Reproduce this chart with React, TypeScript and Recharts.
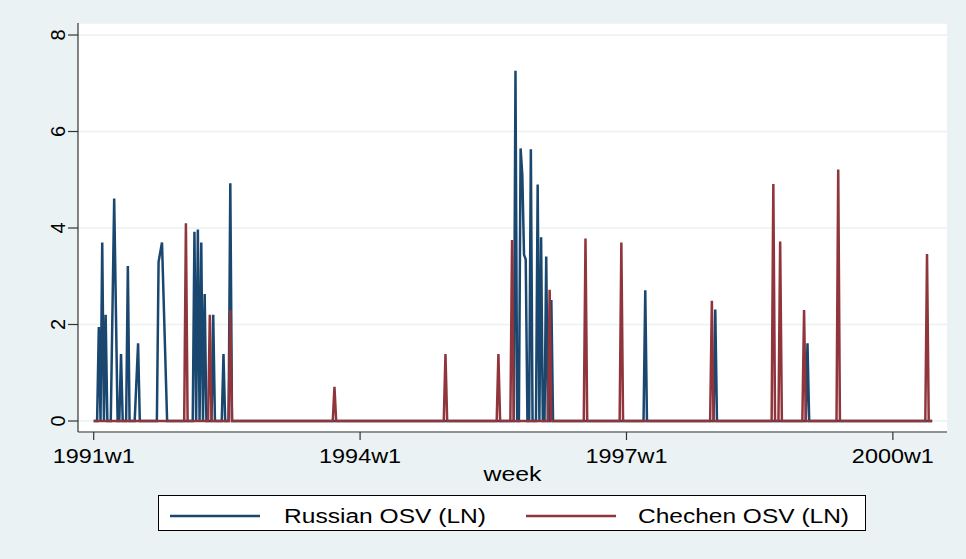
import React from 'react';
import { LineChart, Line, XAxis, YAxis, CartesianGrid } from 'recharts';

// ---- data (week index 0 = 1991w1) ----
const weekTickValues = [0, 156, 312, 468];
const weekTickLabels = ['1991w1', '1994w1', '1997w1', '2000w1'];
const yTicks = [0, 2, 4, 6, 8];
const lastWeek = 491;

const russianWeeks = [3, 5, 7, 12, 16, 20, 26, 38, 40, 59, 61, 63, 65, 70, 76, 80, 247, 250, 251, 252, 253, 256, 260, 262, 265, 268, 323, 364, 418];
const russianValues = [1.95, 3.7, 2.2, 4.61, 1.39, 3.21, 1.61, 3.3, 3.7, 3.92, 3.97, 3.7, 2.63, 2.2, 1.39, 4.93, 7.26, 5.65, 5.1, 3.45, 3.35, 5.63, 4.9, 3.81, 3.41, 2.51, 2.71, 2.31, 1.61];
const russianMissing = [11, 13, 25, 39, 41, 42];

const chechenWeeks = [54, 68, 80, 141, 206, 237, 245, 267, 288, 309, 362, 398, 402, 416, 436, 488];
const chechenValues = [4.1, 2.2, 2.3, 0.71, 1.39, 1.39, 3.75, 2.72, 3.78, 3.7, 2.49, 4.91, 3.72, 2.3, 5.21, 3.46];

const seriesNames = ['Russian OSV (LN)', 'Chechen OSV (LN)'];
const seriesColors = ['#1A476F', '#90353B'];

type Row = { week: number; russian: number | null; chechen: number | null };
const rows: Row[] = [];
for (let w = 0; w <= lastWeek; w++) rows.push({ week: w, russian: 0, chechen: 0 });
russianWeeks.forEach((w, i) => { rows[w].russian = russianValues[i]; });
russianMissing.forEach((w) => { rows[w].russian = null; });
chechenWeeks.forEach((w, i) => { rows[w].chechen = chechenValues[i]; });

const FONT = '"Liberation Sans", Arial, Helvetica, sans-serif';

const XTick = (props: any) => {
  const { x, payload } = props;
  const idx = weekTickValues.indexOf(payload.value);
  return (
    <text x={x} y={463} textAnchor="middle" fontFamily={FONT} fontSize={20} fill="#000"
      textLength={82} lengthAdjust="spacingAndGlyphs">
      {weekTickLabels[idx]}
    </text>
  );
};

const YTick = (props: any) => {
  const { y, payload } = props;
  return (
    <text x={0} y={0} transform={`translate(58,${y}) rotate(-90)`} textAnchor="middle"
      dominantBaseline="central" fontFamily={FONT} fontSize={20} fill="#000">
      {payload.value}
    </text>
  );
};

export default function App() {
  return (
    <div style={{ position: 'absolute', left: 0, top: 0, width: 966, height: 559, background: '#EAF2F3', overflow: 'hidden' }}>
      <LineChart width={966} height={559} data={rows} margin={{ top: 23, right: 19, left: 0, bottom: 0 }}>
        <CartesianGrid horizontal vertical={false} stroke="#EAF2F3" strokeWidth={1.5} fill="#FFFFFF" />
        <XAxis
          dataKey="week"
          type="number"
          domain={[-9.19, 499.7]}
          allowDataOverflow
          ticks={weekTickValues}
          height={127}
          tickSize={8}
          axisLine={{ stroke: '#333', strokeWidth: 1.2 }}
          tickLine={{ stroke: '#333', strokeWidth: 1.2 }}
          tick={<XTick />}
          label={{
            content: (p: any) => {
              const vb = p.viewBox || { x: 78, width: 869 };
              return (
                <text x={vb.x + vb.width / 2} y={481} textAnchor="middle" fontFamily={FONT} fontSize={20}
                  fill="#000" textLength={58} lengthAdjust="spacingAndGlyphs">week</text>
              );
            },
          }}
        />
        <YAxis
          type="number"
          domain={[-0.228, 8.249]}
          allowDataOverflow
          ticks={yTicks}
          width={78}
          tickSize={10}
          axisLine={{ stroke: '#333', strokeWidth: 1.2 }}
          tickLine={{ stroke: '#333', strokeWidth: 1.2 }}
          tick={<YTick />}
        />
        <Line dataKey="russian" type="linear" stroke={seriesColors[0]} strokeWidth={2.5} dot={false}
          connectNulls isAnimationActive={false} />
        <Line dataKey="chechen" type="linear" stroke={seriesColors[1]} strokeWidth={2.5} dot={false}
          connectNulls isAnimationActive={false} />
      </LineChart>
      <div style={{ position: 'absolute', left: 158, top: 495, width: 708, height: 36, boxSizing: 'border-box', border: '1px solid #000', background: '#FFFFFF' }}>
        <svg width={706} height={34} style={{ display: 'block' }}>
          <line x1={11} x2={101} y1={20} y2={20} stroke={seriesColors[0]} strokeWidth={2.5} />
          <text x={125} y={27} fontFamily={FONT} fontSize={20} fill="#000" textLength={202} lengthAdjust="spacingAndGlyphs">{seriesNames[0]}</text>
          <line x1={367} x2={457} y1={20} y2={20} stroke={seriesColors[1]} strokeWidth={2.5} />
          <text x={479} y={27} fontFamily={FONT} fontSize={20} fill="#000" textLength={211} lengthAdjust="spacingAndGlyphs">{seriesNames[1]}</text>
        </svg>
      </div>
    </div>
  );
}
